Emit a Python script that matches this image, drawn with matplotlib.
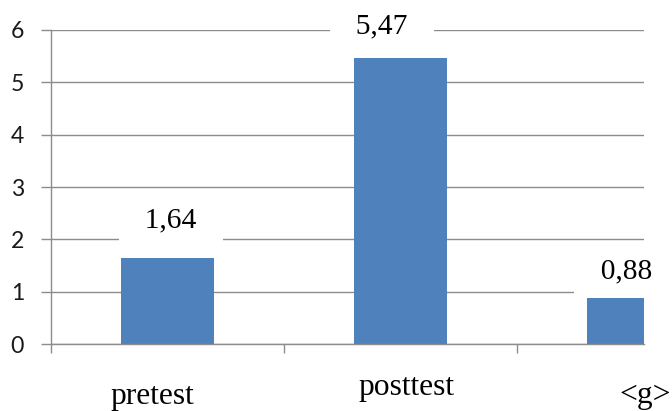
import matplotlib
matplotlib.use("Agg")
import matplotlib.pyplot as plt

# Data
categories = ["pretest", "posttest", "<g>"]
values = [1.64, 5.47, 0.88]
y_ticks = [0, 1, 2, 3, 4, 5, 6]

# Layout (pixels at dpi=100 -> points via 0.72)
value_label_offsets_px = [(3.5, 31), (-18.5, 24.5), (-7.5, 20)]
category_label_x = [-0.064, 1.024, 2.05]
category_label_drop_px = [60, 51, 59]

BAR_COLOR = "#4F81BD"
GRID_COLOR = "#8C8C8C"
DPI = 100
PX = 72.0 / DPI

fig = plt.figure(figsize=(6.72, 4.11), dpi=DPI)
W, H = 672, 411
left_px, right_px, top_px, bottom_px = 51, 644, 30, 344
ax = fig.add_axes([left_px / W, (H - bottom_px) / H,
                   (right_px - left_px) / W, (bottom_px - top_px) / H])

cat_w = 233.0
x = list(range(len(categories)))
ax.bar(x, values, width=0.4, color=BAR_COLOR, zorder=2)

ax.set_xlim(-0.5, -0.5 + (right_px - left_px) / cat_w)
ax.set_ylim(0, 6)

ax.set_yticks(y_ticks)
ax.set_yticklabels([str(t) for t in y_ticks])
ax.yaxis.grid(True, color=GRID_COLOR, linewidth=1.0, zorder=0)
ax.set_axisbelow(True)

ax.set_xticks([-0.5, 0.5, 1.5])
ax.set_xticklabels([])
ax.tick_params(axis="x", direction="out", length=9 * PX, width=1.0, color=GRID_COLOR)
ax.tick_params(axis="y", direction="out", length=10 * PX, width=1.0, color=GRID_COLOR,
               pad=17 * PX, labelsize=23 * PX, labelcolor="#1a1a1a")
for lab in ax.get_yticklabels():
    lab.set_fontfamily("Lato")

for s in ("top", "right"):
    ax.spines[s].set_visible(False)
for s in ("left", "bottom"):
    ax.spines[s].set_color(GRID_COLOR)
    ax.spines[s].set_linewidth(1.0)

serif = "Liberation Serif"

# Value labels on white boxes that interrupt the gridlines
for xi, v, (dx, dy) in zip(x, values, value_label_offsets_px):
    ax.annotate("  " + f"{v:.2f}".replace(".", ",") + "  ",
                xy=(xi, v), xytext=(dx * PX, dy * PX), textcoords="offset points",
                ha="center", va="baseline", fontsize=29.5 * PX, family=serif,
                color="black", annotation_clip=False, zorder=5,
                bbox=dict(boxstyle="square,pad=0.4", fc="white", ec="none"))

# Category labels below the axis
for cx, name, drop in zip(category_label_x, categories, category_label_drop_px):
    ax.annotate(name, xy=(cx, 0), xytext=(0, -drop * PX), textcoords="offset points",
                ha="center", va="baseline", fontsize=31.5 * PX, family=serif,
                color="black", annotation_clip=False)

fig.savefig("out.png", dpi=DPI)
